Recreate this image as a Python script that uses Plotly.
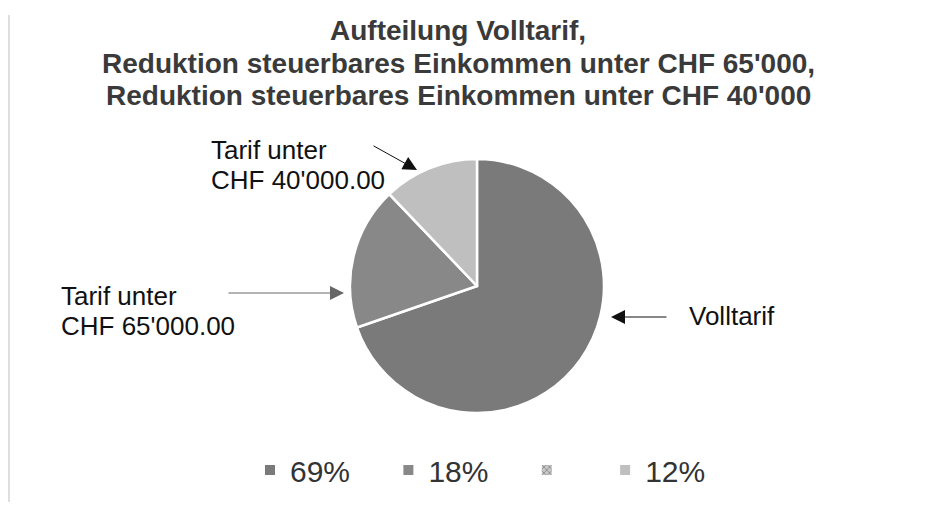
import plotly.graph_objects as go

NB = "\u00a0"
categories = ["69%", "18%", "", "12%"]
values = [69, 18, 0, 12]
slice_colors = ["#7a7a7a", "#888888", "#b4b4b4", "#bfbfbf"]
title_lines = ["Aufteilung Volltarif,",
               "Reduktion steuerbares Einkommen unter CHF 65'000,",
               "Reduktion steuerbares Einkommen unter CHF 40'000"]
label_40 = ["Tarif unter", "CHF 40'000.00"]
label_65 = ["Tarif unter", "CHF 65'000.00"]
label_voll = "Volltarif"

W, H = 945, 506
OFF = 8  # page body margin
def px(x): return (x - OFF) / W
def py(y): return 1 - (y - OFF) / H

pad = [NB * 4, NB * 4, NB * 4, ""]
legend_labels = [c + p for c, p in zip(categories, pad)]

fig = go.Figure()
fig.add_trace(go.Pie(
    labels=legend_labels, values=values, sort=False, direction="clockwise", rotation=0,
    textinfo="none", hoverinfo="label+value",
    marker=dict(colors=slice_colors, line=dict(color="white", width=2.5),
                pattern=dict(shape=["", "", "x", ""], fgcolor="#777", bgcolor="#c8c8c8",
                             size=4, solidity=0.3)),
    domain=dict(x=[px(477 - 127), px(477 + 127)], y=[py(286 + 127), py(286 - 127)]),
    showlegend=True,
))

font = "Liberation Sans, Arial, sans-serif"
ann = []
def text(t, x, y, size, color, xanchor="left", bold=False):
    return dict(text=("<b>%s</b>" % t) if bold else t, x=px(x), y=py(y), xref="paper", yref="paper",
                xanchor=xanchor, yanchor="middle", showarrow=False,
                font=dict(family=font, size=size, color=color))
# title lines (cap centres)
for t, yy in zip(title_lines, [31, 63, 95]):
    ann.append(text(t, 458, yy, 28, "#3a3a3a", xanchor="center", bold=True))
# labels
for t, yy in zip(label_40, [150, 180]):
    ann.append(text(t, 209, yy, 26, "#111"))
for t, yy in zip(label_65, [296, 326]):
    ann.append(text(t, 59, yy, 26, "#111"))
ann.append(text(label_voll, 687, 316, 26, "#111"))
# arrows
def arrow(tx, ty, hx, hy, color="#111"):
    return dict(text="", x=px(hx), y=py(hy), xref="paper", yref="paper", ax=tx - hx, ay=ty - hy,
                showarrow=True, arrowhead=2, arrowsize=2.8, arrowwidth=1, arrowcolor=color, standoff=0)
ann.append(arrow(372, 145, 417, 170))
ann.append(arrow(227, 293, 344, 293, "#666"))
ann.append(arrow(668, 317, 611, 317))

fig.update_layout(
    width=W, height=H, margin=dict(l=0, r=0, t=0, b=0),
    paper_bgcolor="white", plot_bgcolor="white",
    annotations=ann,
    legend=dict(orientation="h", x=px(250), y=py(470), xanchor="left", yanchor="middle",
                font=dict(family=font, size=30, color="#333"), itemsizing="constant"),
    shapes=[dict(type="line", xref="paper", yref="paper", x0=px(9), x1=px(9), y0=py(15), y1=py(502),
                 line=dict(color="#d4d4d4", width=1.5))],
)
fig.write_html("out.html")
